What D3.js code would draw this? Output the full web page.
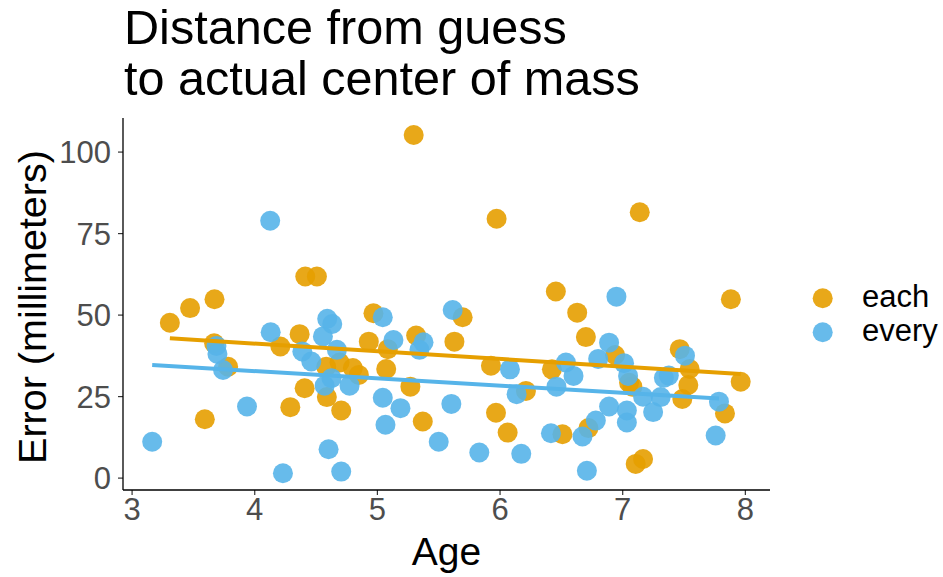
<!DOCTYPE html>
<html>
<head>
<meta charset="utf-8">
<script src="https://cdn.jsdelivr.net/npm/d3@7"></script>
<style>
  html, body { margin: 0; padding: 0; background: #ffffff; }
  svg { display: block; font-family: "Liberation Sans", Arial, Helvetica, sans-serif; }
</style>
</head>
<body>
<svg id="chart" width="943" height="577"></svg>
<script>
// ---- Data ----
const titleLines = ["Distance from guess", "to actual center of mass"];
const xLabel = "Age";
const yLabel = "Error (millimeters)";
const xTicks = [3, 4, 5, 6, 7, 8];
const yTicks = [0, 25, 50, 75, 100];
const groups = ["each", "every"];

const eachAge = [3.312, 3.477, 3.597, 3.673, 3.676, 3.787, 4.213, 4.294, 4.370, 4.411,
  4.416, 4.511, 4.587, 4.592, 4.696, 4.709, 4.804, 4.853, 4.934, 4.972,
  5.076, 5.089, 5.273, 5.300, 5.320, 5.374, 5.632, 5.699, 5.930, 5.971,
  5.976, 6.066, 6.215, 6.427, 6.459, 6.513, 6.633, 6.704, 6.725, 6.942,
  7.056, 7.083, 7.110, 7.143, 7.170, 7.469, 7.490, 7.539, 7.550, 7.838,
  7.886, 7.966];
const eachError = [47.5, 52.0, 17.9, 41.2, 54.7, 34.0, 40.2, 21.6, 44.0, 27.4,
  61.7, 61.7, 34.0, 24.7, 35.3, 20.6, 33.6, 31.5, 41.7, 50.4,
  33.3, 39.4, 27.9, 105.1, 43.6, 17.2, 41.7, 49.2, 34.3, 19.9,
  79.4, 13.8, 26.6, 33.2, 57.1, 13.3, 50.6, 43.1, 15.2, 37.6,
  29.1, 27.9, 4.2, 81.4, 5.7, 39.4, 24.1, 28.4, 33.3, 19.7,
  54.7, 29.4];

const everyAge = [3.168, 3.692, 3.700, 3.746, 3.941, 4.130, 4.134, 4.234, 4.392, 4.465,
  4.560, 4.574, 4.595, 4.606, 4.630, 4.636, 4.674, 4.709, 4.777, 5.048,
  5.048, 5.070, 5.135, 5.192, 5.347, 5.380, 5.504, 5.607, 5.618, 5.835,
  6.085, 6.139, 6.177, 6.419, 6.464, 6.541, 6.603, 6.676, 6.712, 6.785,
  6.804, 6.893, 6.893, 6.953, 7.015, 7.038, 7.038, 7.048, 7.170, 7.252,
  7.314, 7.340, 7.380, 7.512, 7.762, 7.789];
const everyError = [11.0, 40.4, 37.9, 33.0, 21.8, 78.8, 44.6, 1.35, 38.7, 35.6,
  43.3, 28.2, 48.7, 8.7, 30.5, 47.1, 39.2, 1.84, 28.2, 49.2,
  24.5, 16.2, 42.2, 21.3, 39.2, 41.5, 11.0, 22.6, 51.4, 7.7,
  33.2, 25.6, 7.3, 13.6, 27.9, 35.3, 31.2, 12.6, 2.1, 17.5,
  36.4, 41.4, 21.8, 55.5, 35.1, 20.6, 16.9, 31.2, 24.8, 20.1,
  24.7, 30.6, 31.3, 37.4, 12.9, 23.3];

const colors = { each: "#E69F00", every: "#56B4E9" };

// ---- Layout ----
const svg = d3.select("#chart");
const plot = { left: 123, right: 770, top: 118, bottom: 490 };

const x = d3.scaleLinear().domain([2.93, 8.205]).range([plot.left, plot.right]);
const y = d3.scaleLinear().domain([-3.8, 110.3]).range([plot.bottom, plot.top]);

const series = [
  { name: "each", ages: eachAge, errs: eachError },
  { name: "every", ages: everyAge, errs: everyError }
];

function linFit(xs, ys) {
  const mx = d3.mean(xs), my = d3.mean(ys);
  let sxy = 0, sxx = 0;
  xs.forEach((v, i) => { sxy += (v - mx) * (ys[i] - my); sxx += (v - mx) * (v - mx); });
  const b = sxy / sxx;
  return { a: my - b * mx, b };
}

// ---- Points ----
series.forEach(s => {
  svg.append("g").selectAll("circle")
    .data(s.ages.map((a, i) => ({ a, e: s.errs[i] })))
    .join("circle")
    .attr("cx", d => x(d.a))
    .attr("cy", d => y(d.e))
    .attr("r", 10)
    .attr("fill", colors[s.name])
    .attr("fill-opacity", 0.9);
});

// ---- Fit lines ----
series.forEach(s => {
  const f = linFit(s.ages, s.errs);
  const x0 = d3.min(s.ages), x1 = d3.max(s.ages);
  svg.append("line")
    .attr("x1", x(x0)).attr("y1", y(f.a + f.b * x0))
    .attr("x2", x(x1)).attr("y2", y(f.a + f.b * x1))
    .attr("stroke", colors[s.name])
    .attr("stroke-width", 4)
    .attr("stroke-linecap", "butt");
});

// ---- Axes ----
const xAxis = svg.append("g")
  .attr("transform", `translate(0,${plot.bottom})`)
  .call(d3.axisBottom(x).tickValues(xTicks).tickSize(5).tickPadding(3).tickFormat(d3.format("d")));
const yAxis = svg.append("g")
  .attr("transform", `translate(${plot.left},0)`)
  .call(d3.axisLeft(y).tickValues(yTicks).tickSize(5).tickPadding(7).tickFormat(d3.format("d")));

[xAxis, yAxis].forEach(g => {
  g.select(".domain").remove();
  g.selectAll(".tick line").attr("stroke", "#333333").attr("stroke-width", 1.2);
  g.selectAll(".tick text")
    .attr("fill", "#4D4D4D")
    .attr("font-size", 31)
    .attr("font-family", "'Liberation Sans', Arial, sans-serif");
});
xAxis.selectAll(".tick text").attr("dy", "0.72em");
yAxis.selectAll(".tick text").attr("dy", "0.36em");

// axis lines
svg.append("line")
  .attr("x1", x.range()[0]).attr("x2", x.range()[1])
  .attr("y1", plot.bottom).attr("y2", plot.bottom)
  .attr("stroke", "#000").attr("stroke-width", 1.3);
svg.append("line")
  .attr("x1", plot.left).attr("x2", plot.left)
  .attr("y1", plot.top).attr("y2", plot.bottom)
  .attr("stroke", "#000").attr("stroke-width", 1.3);

// axis titles
svg.append("text")
  .attr("x", (plot.left + plot.right) / 2)
  .attr("y", 565)
  .attr("text-anchor", "middle")
  .attr("font-size", 39)
  .attr("fill", "#000")
  .text(xLabel);
svg.append("text")
  .attr("transform", `translate(46,${(plot.top + plot.bottom) / 2 + 3}) rotate(-90)`)
  .attr("text-anchor", "middle")
  .attr("font-size", 39.5)
  .attr("fill", "#000")
  .text(yLabel);

// title
titleLines.forEach((t, i) => {
  svg.append("text")
    .attr("x", 124)
    .attr("y", 43.5 + i * 51.5)
    .attr("font-size", 48.6)
    .attr("fill", "#000")
    .text(t);
});

// legend
const legend = svg.append("g");
groups.forEach((g, i) => {
  const cy = 298.3 + i * 34;
  legend.append("circle")
    .attr("cx", 822.7).attr("cy", cy).attr("r", 10)
    .attr("fill", colors[g]).attr("fill-opacity", 0.9);
  legend.append("text")
    .attr("x", 862).attr("y", cy)
    .attr("dy", "0.27em")
    .attr("font-size", 31)
    .attr("fill", "#000")
    .text(g);
});
</script>
</body>
</html>
